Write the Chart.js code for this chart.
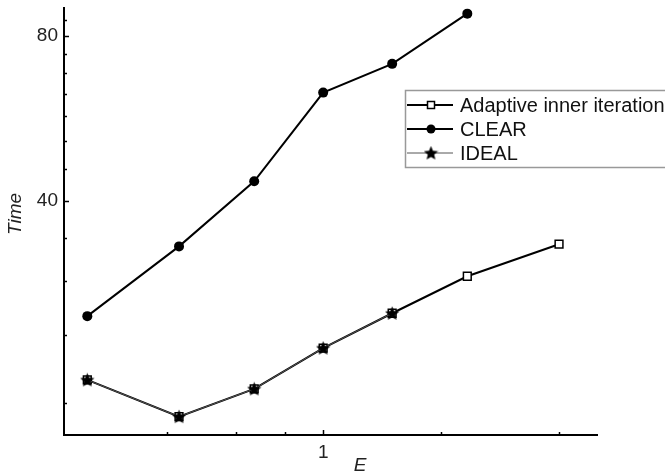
<!DOCTYPE html>
<html>
<head>
<meta charset="utf-8">
<script src="https://cdn.jsdelivr.net/npm/chart.js@4/dist/chart.umd.min.js"></script>
<style>
  html, body { margin: 0; padding: 0; background: #fff; }
  #wrap { width: 665px; height: 473px; }
</style>
</head>
<body>
<div id="wrap"><canvas id="timeChart" width="665" height="473"></canvas></div>
<script>
// values (both axes are logarithmic)
const eValues = [0.25, 0.4286, 0.6667, 1, 1.5, 2.333, 4];
const adaptiveTime = [18.9, 16.2, 18.2, 21.6, 25.0, 29.2, 33.4];
const clearTime = [24.7, 33.1, 43.5, 63.1, 71.2, 87.9];
const idealTime = [18.9, 16.2, 18.2, 21.6, 25.0];

const xTickValues = [0.4, 0.6, 0.8, 1, 2, 4];
const xTickLabels = ['', '', '', '1', '', ''];
const yTickValues = [17.14, 22.86, 28.57, 34.29, 40, 45.71, 51.43, 57.14, 62.86, 68.57, 74.29, 80, 85.71];
const yTickLabels = ['', '', '', '', '40', '', '', '', '', '', '', '80', ''];

const FONT = '"Liberation Sans", Arial, Helvetica, sans-serif';

function toPoints(xs, ys) {
    return ys.map((y, i) => ({ x: xs[i], y: y }));
}

// filled five point star used as marker
function makeStar(size) {
    const c = document.createElement('canvas');
    c.width = size;
    c.height = size;
    const g = c.getContext('2d');
    const cx = size / 2, cy = size / 2 + 0.5;
    const outer = size / 2, inner = outer * 0.45;
    g.beginPath();
    for (let i = 0; i < 10; i++) {
        const r = i % 2 === 0 ? outer : inner;
        const a = -Math.PI / 2 + i * Math.PI / 5;
        const px = cx + r * Math.cos(a), py = cy + r * Math.sin(a);
        if (i === 0) g.moveTo(px, py); else g.lineTo(px, py);
    }
    g.closePath();
    g.fillStyle = '#000';
    g.fill();
    return c;
}
const starImg = makeStar(15);

// inward tick marks, axis titles and the framed legend
const decorPlugin = {
    id: 'decor',
    afterDraw(chart) {
        const ctx = chart.ctx;
        const area = chart.chartArea;
        const xs = chart.scales.x, ys = chart.scales.y;
        ctx.save();
        ctx.strokeStyle = '#000';
        ctx.lineWidth = 1.5;
        xs.ticks.forEach((t, i) => {
            const px = Math.round(xs.getPixelForValue(t.value)) + 0.5;
            const len = xTickLabels[i] ? 5 : 3;
            ctx.beginPath();
            ctx.moveTo(px, area.bottom);
            ctx.lineTo(px, area.bottom - len);
            ctx.stroke();
        });
        ys.ticks.forEach((t, i) => {
            const py = Math.round(ys.getPixelForValue(t.value)) + 0.5;
            const len = yTickLabels[i] ? 5 : 3;
            ctx.beginPath();
            ctx.moveTo(area.left, py);
            ctx.lineTo(area.left + len, py);
            ctx.stroke();
        });

        // axis titles
        ctx.fillStyle = '#222';
        ctx.font = 'italic 19px ' + FONT;
        ctx.textAlign = 'center';
        ctx.textBaseline = 'middle';
        ctx.fillText('E', 360, 466);
        ctx.save();
        ctx.translate(16, 214);
        ctx.rotate(-Math.PI / 2);
        ctx.fillText('Time', 0, 0);
        ctx.restore();

        // legend
        ctx.strokeStyle = '#999';
        ctx.lineWidth = 1.5;
        ctx.strokeRect(405.5, 90.5, 290, 77);
        const rows = [105, 129, 153];
        chart.data.datasets.forEach((ds, i) => {
            const y = rows[i];
            ctx.strokeStyle = ds.borderColor;
            ctx.lineWidth = ds.borderWidth;
            ctx.beginPath();
            ctx.moveTo(407, y);
            ctx.lineTo(453, y);
            ctx.stroke();
            const mx = 431;
            if (ds.pointStyle === 'rect') {
                ctx.fillStyle = '#fff';
                ctx.strokeStyle = '#000';
                ctx.lineWidth = 1.5;
                ctx.fillRect(mx - 3.5, y - 3.5, 7, 7);
                ctx.strokeRect(mx - 3.5, y - 3.5, 7, 7);
            } else if (ds.pointStyle === 'circle') {
                ctx.fillStyle = '#000';
                ctx.beginPath();
                ctx.arc(mx, y, 4.5, 0, Math.PI * 2);
                ctx.fill();
            } else {
                ctx.drawImage(starImg, mx - 7.5, y - 7.5);
            }
            ctx.fillStyle = '#111';
            ctx.font = '20px ' + FONT;
            ctx.textAlign = 'left';
            ctx.textBaseline = 'middle';
            ctx.fillText(ds.label, 460, y + 1);
        });
        ctx.restore();
    }
};

const ctx = document.getElementById('timeChart').getContext('2d');
new Chart(ctx, {
    type: 'line',
    data: {
        datasets: [{
            label: 'Adaptive inner iteration',
            data: toPoints(eValues, adaptiveTime),
            borderColor: '#000',
            borderWidth: 2,
            pointStyle: 'rect',
            pointRadius: 5.5,
            pointBackgroundColor: '#fff',
            pointBorderColor: '#000',
            pointBorderWidth: 1.5,
            order: 1
        }, {
            label: 'CLEAR',
            data: toPoints(eValues, clearTime),
            borderColor: '#000',
            borderWidth: 2,
            pointStyle: 'circle',
            pointRadius: 5,
            pointBackgroundColor: '#000',
            pointBorderColor: '#000',
            pointBorderWidth: 0,
            order: 2
        }, {
            label: 'IDEAL',
            data: toPoints(eValues, idealTime),
            borderColor: '#555',
            borderWidth: 1,
            pointStyle: starImg,
            pointRadius: 7,
            order: 0
        }]
    },
    options: {
        responsive: false,
        animation: false,
        events: [],
        layout: {
            padding: { top: 7, right: 68, left: 0, bottom: 0 }
        },
        scales: {
            x: {
                type: 'logarithmic',
                min: 0.218,
                max: 5,
                afterBuildTicks: (scale) => {
                    scale.ticks = xTickValues.map(v => ({ value: v }));
                },
                afterFit: (scale) => {
                    scale.height = 38;
                    scale.paddingLeft = 0;
                    scale.paddingRight = 0;
                },
                grid: { display: false, drawTicks: false },
                border: { display: true, color: '#000', width: 2 },
                ticks: {
                    autoSkip: false,
                    maxRotation: 0,
                    padding: 6,
                    color: '#222',
                    font: { family: FONT, size: 19 },
                    callback: (value, index) => xTickLabels[index]
                }
            },
            y: {
                type: 'logarithmic',
                min: 15,
                max: 90,
                afterBuildTicks: (scale) => {
                    scale.ticks = yTickValues.map(v => ({ value: v }));
                },
                afterFit: (scale) => {
                    scale.width = 64;
                    scale.paddingTop = 0;
                    scale.paddingBottom = 0;
                },
                grid: { display: false, drawTicks: false },
                border: { display: true, color: '#000', width: 2 },
                ticks: {
                    autoSkip: false,
                    padding: 6,
                    color: '#222',
                    font: { family: FONT, size: 19 },
                    callback: (value, index) => yTickLabels[index]
                }
            }
        },
        plugins: {
            legend: { display: false },
            tooltip: { enabled: false }
        }
    },
    plugins: [decorPlugin]
});
</script>
</body>
</html>
